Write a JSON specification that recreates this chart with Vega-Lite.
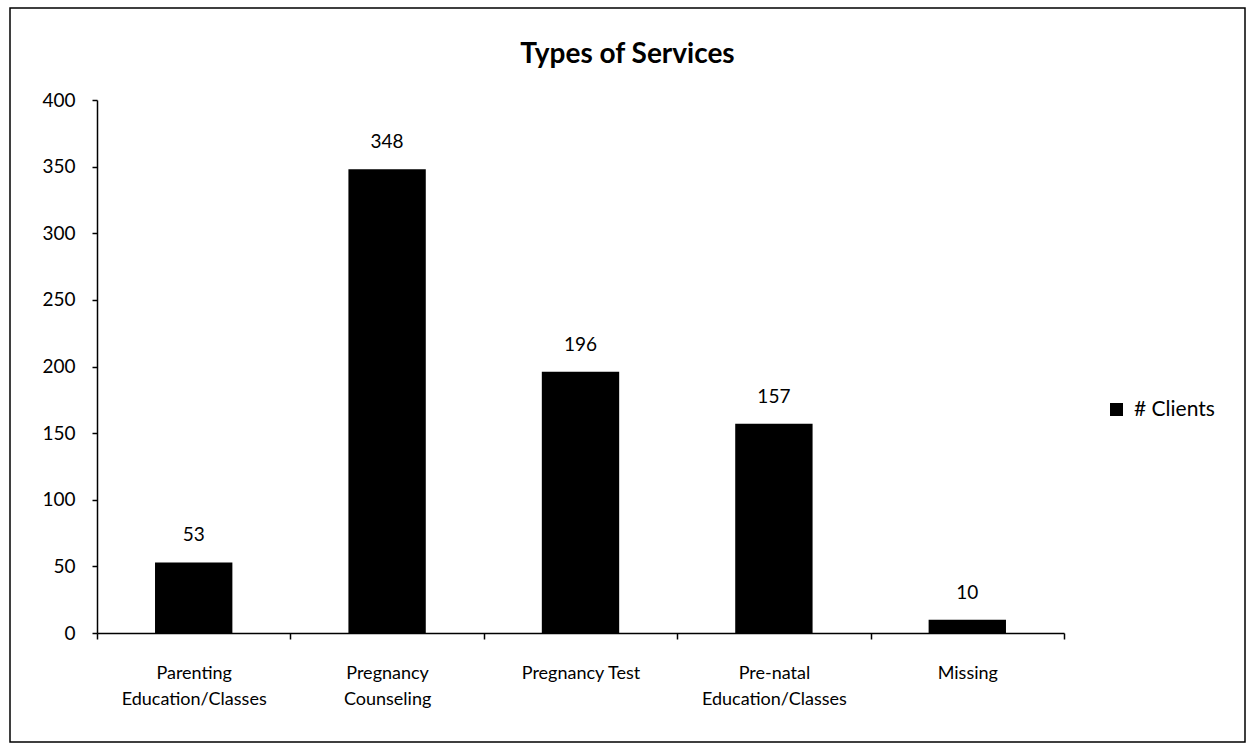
{
  "$schema": "https://vega.github.io/schema/vega-lite/v6.json",
  "width": 1235,
  "height": 734,
  "autosize": {"type": "none"},
  "padding": {"left": 10, "top": 8, "right": 5, "bottom": 3},
  "background": "white",
  "config": {
    "font": "Lato",
    "view": {"stroke": "black", "strokeWidth": 1.5},
    "axis": {"grid": false}
  },
  "title": {
    "text": "Types of Services",
    "fontSize": 28,
    "fontWeight": "bold",
    "font": "Lato",
    "color": "black",
    "anchor": "middle",
    "baseline": "alphabetic",
    "offset": -83
  },
  "data": {
    "values": [
      {"service": "Parenting|Education/Classes", "clients": 53, "series": "# Clients"},
      {"service": "Pregnancy|Counseling", "clients": 348, "series": "# Clients"},
      {"service": "Pregnancy Test", "clients": 196, "series": "# Clients"},
      {"service": "Pre-natal|Education/Classes", "clients": 157, "series": "# Clients"},
      {"service": "Missing", "clients": 10, "series": "# Clients"}
    ]
  },
  "encoding": {
    "x": {
      "field": "service",
      "type": "nominal",
      "sort": null,
      "scale": {"range": [87, 1054], "paddingInner": 0, "paddingOuter": 0},
      "axis": {
        "title": null,
        "orient": "bottom",
        "offset": -109,
        "labelAngle": 0,
        "labelExpr": "split(datum.label, '|')",
        "labelFontSize": 18,
        "labelColor": "black",
        "labelPadding": 25,
        "labelLineHeight": 26,
        "labelBaseline": "top",
        "ticks": true,
        "tickBand": "extent",
        "tickExtra": true,
        "tickSize": 6,
        "tickColor": "black",
        "tickWidth": 1.5,
        "domainColor": "black",
        "domainWidth": 1.5
      }
    },
    "y": {
      "field": "clients",
      "type": "quantitative",
      "scale": {"domain": [0, 400], "range": [625, 92], "nice": false},
      "axis": {
        "title": null,
        "orient": "left",
        "offset": -87,
        "values": [0, 50, 100, 150, 200, 250, 300, 350, 400],
        "labelFontSize": 19,
        "labelColor": "black",
        "labelPadding": 17,
        "tickSize": 5,
        "tickColor": "black",
        "tickWidth": 1.5,
        "domainColor": "black",
        "domainWidth": 1.5
      }
    }
  },
  "layer": [
    {
      "mark": {"type": "bar", "width": {"band": 0.4}},
      "encoding": {
        "color": {
          "field": "series",
          "type": "nominal",
          "scale": {"range": ["black"]},
          "legend": {
            "title": null,
            "orient": "none",
            "legendX": 1096,
            "legendY": 391,
            "symbolType": "square",
            "symbolSize": 169,
            "symbolStrokeWidth": 0,
            "labelFontSize": 21,
            "labelColor": "black",
            "labelOffset": 7
          }
        }
      }
    },
    {
      "mark": {"type": "text", "baseline": "alphabetic", "dy": -21, "fontSize": 19, "color": "black"},
      "encoding": {
        "text": {"field": "clients", "type": "quantitative"}
      }
    }
  ]
}
